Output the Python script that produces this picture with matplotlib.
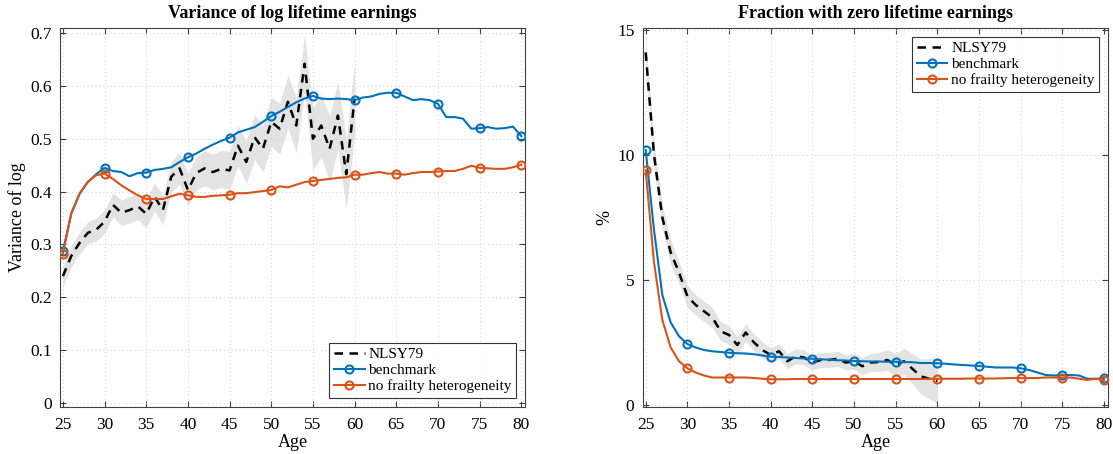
import matplotlib
matplotlib.use("Agg")
import matplotlib.pyplot as plt
import numpy as np

# ages
age_model = list(range(25, 81))
age_data = list(range(25, 61))

# variance of log lifetime earnings
var_bench = [0.287, 0.358, 0.396, 0.418, 0.433, 0.445, 0.439, 0.437, 0.429, 0.435,
             0.436, 0.441, 0.443, 0.446, 0.456, 0.465, 0.472, 0.481, 0.489, 0.496,
             0.502, 0.512, 0.517, 0.522, 0.532, 0.543, 0.551, 0.560, 0.569, 0.576,
             0.581, 0.576, 0.575, 0.576, 0.575, 0.573, 0.578, 0.580, 0.585, 0.587,
             0.587, 0.580, 0.573, 0.575, 0.573, 0.566, 0.541, 0.541, 0.538, 0.519,
             0.520, 0.522, 0.519, 0.520, 0.523, 0.505]
var_nofrail = [0.282, 0.359, 0.396, 0.419, 0.431, 0.434, 0.424, 0.412, 0.402, 0.393,
               0.386, 0.386, 0.386, 0.391, 0.396, 0.393, 0.390, 0.390, 0.392, 0.393,
               0.394, 0.397, 0.397, 0.399, 0.401, 0.403, 0.410, 0.408, 0.413, 0.418,
               0.420, 0.422, 0.424, 0.426, 0.427, 0.432, 0.432, 0.435, 0.437, 0.434,
               0.434, 0.432, 0.435, 0.437, 0.437, 0.438, 0.439, 0.439, 0.443, 0.449,
               0.445, 0.444, 0.443, 0.443, 0.446, 0.451]
var_nlsy = [0.240, 0.278, 0.303, 0.322, 0.328, 0.343, 0.375, 0.360, 0.365, 0.372,
            0.358, 0.390, 0.365, 0.428, 0.444, 0.403, 0.435, 0.444, 0.437, 0.443,
            0.440, 0.487, 0.456, 0.503, 0.481, 0.532, 0.519, 0.570, 0.525, 0.642,
            0.500, 0.525, 0.481, 0.544, 0.433, 0.576]
var_nlsy_ci = [0.020, 0.020, 0.021, 0.021, 0.022, 0.022, 0.023, 0.024, 0.025, 0.025,
               0.026, 0.027, 0.028, 0.029, 0.030, 0.031, 0.032, 0.033, 0.034, 0.035,
               0.036, 0.038, 0.040, 0.042, 0.044, 0.046, 0.048, 0.050, 0.052, 0.055,
               0.058, 0.060, 0.062, 0.064, 0.066, 0.070]

# fraction with zero lifetime earnings (%)
zero_bench = [10.2, 7.0, 4.4, 3.3, 2.75, 2.44, 2.3, 2.2, 2.15, 2.12,
              2.09, 2.07, 2.06, 2.03, 1.98, 1.93, 1.92, 1.90, 1.88, 1.86,
              1.85, 1.83, 1.81, 1.79, 1.78, 1.76, 1.75, 1.74, 1.74, 1.73,
              1.73, 1.72, 1.71, 1.68, 1.68, 1.67, 1.65, 1.62, 1.60, 1.58,
              1.56, 1.53, 1.50, 1.50, 1.50, 1.47, 1.40, 1.30, 1.20, 1.18,
              1.20, 1.20, 1.18, 1.05, 1.05, 1.07]
zero_nofrail = [9.4, 5.7, 3.4, 2.3, 1.75, 1.47, 1.30, 1.18, 1.10, 1.10,
                1.10, 1.10, 1.10, 1.08, 1.05, 1.03, 1.03, 1.03, 1.04, 1.04,
                1.04, 1.04, 1.04, 1.04, 1.04, 1.04, 1.04, 1.04, 1.04, 1.04,
                1.04, 1.04, 1.04, 1.04, 1.05, 1.05, 1.05, 1.05, 1.05, 1.06,
                1.06, 1.06, 1.06, 1.07, 1.08, 1.08, 1.08, 1.08, 1.10, 1.10,
                1.10, 1.10, 1.05, 1.00, 1.05, 1.00]
zero_nlsy = [14.1, 10.0, 7.5, 6.1, 5.3, 4.35, 4.0, 3.75, 3.5, 2.95,
             2.8, 2.4, 2.9, 2.5, 2.2, 2.0, 2.15, 1.75, 1.95, 1.9,
             1.7, 1.8, 1.8, 1.85, 1.7, 1.75, 1.55, 1.7, 1.72, 1.8,
             1.6, 1.75, 1.45, 1.15, 1.05, 0.95]
zero_nlsy_ci = [0.55, 0.55, 0.5, 0.5, 0.45, 0.45, 0.4, 0.4, 0.4, 0.38,
                0.36, 0.35, 0.34, 0.33, 0.32, 0.3, 0.3, 0.3, 0.3, 0.3,
                0.3, 0.3, 0.3, 0.3, 0.3, 0.32, 0.34, 0.36, 0.38, 0.42,
                0.46, 0.52, 0.6, 0.7, 0.8, 0.9]

BLUE = "#0072BD"
ORANGE = "#D95319"
SHADE = "#e3e3e3"

plt.rcParams['font.family'] = ['Liberation Serif', 'DejaVu Serif']

fig = plt.figure(figsize=(11.13, 4.54), dpi=100)
ax1 = fig.add_axes([0.0539, 0.1035, 0.4182, 0.835])
ax2 = fig.add_axes([0.5775, 0.1035, 0.4182, 0.835])


def panel(ax, nlsy, ci, bench, nofrail):
    lo = np.array(nlsy) - np.array(ci)
    hi = np.array(nlsy) + np.array(ci)
    ax.fill_between(age_data, lo, hi, color=SHADE, lw=0, zorder=1)
    ax.plot(age_data, nlsy, color="black", lw=1.8, dashes=(3.4, 2.6),
            label="NLSY79", zorder=3)
    ax.plot(age_model, bench, color=BLUE, lw=1.5, marker="o", markersize=5.8,
            markerfacecolor="none", markeredgewidth=1.5, markevery=5,
            label="benchmark", zorder=4)
    ax.plot(age_model, nofrail, color=ORANGE, lw=1.5, marker="o", markersize=5.8,
            markerfacecolor="none", markeredgewidth=1.5, markevery=5,
            label="no frailty heterogeneity", zorder=4)
    ax.set_xlim(24.65, 80.5)
    ax.set_xticks(range(25, 81, 5))
    ax.grid(True, linestyle=(0, (1, 3)), color="#d0d0d0", lw=0.7)
    ax.tick_params(direction="in", top=True, right=True, length=4,
                   labelsize=12.5, color="#404040")
    ax.tick_params(axis="x", pad=7)
    ax.tick_params(axis="y", pad=6)
    for s in ax.spines.values():
        s.set_color("#404040")
        s.set_linewidth(0.8)
    ax.set_xlabel("Age", fontsize=13, labelpad=1)


def legend(ax, loc):
    leg = ax.legend(loc=loc, fontsize=11, frameon=True, fancybox=False,
                    edgecolor="black", handlelength=2.0, borderpad=0.3,
                    labelspacing=0.15, handletextpad=0.25, borderaxespad=0.6)
    leg.get_frame().set_linewidth(0.8)


panel(ax1, var_nlsy, var_nlsy_ci, var_bench, var_nofrail)
ax1.set_ylim(-0.0076, 0.7097)
ax1.set_yticks(np.arange(0, 0.71, 0.1))
ax1.set_yticklabels(["0", "0.1", "0.2", "0.3", "0.4", "0.5", "0.6", "0.7"])
ax1.set_ylabel("Variance of log", fontsize=13, labelpad=3)
ax1.set_title("Variance of log lifetime earnings", fontsize=13,
              fontweight="bold", pad=7)
legend(ax1, "lower right")

panel(ax2, zero_nlsy, zero_nlsy_ci, zero_bench, zero_nofrail)
ax2.set_ylim(-0.08, 15.08)
ax2.set_yticks([0, 5, 10, 15])
ax2.set_ylabel("%", fontsize=13, labelpad=3)
ax2.set_title("Fraction with zero lifetime earnings", fontsize=13,
              fontweight="bold", pad=7)
legend(ax2, "upper right")

fig.savefig("out.png", dpi=100)
